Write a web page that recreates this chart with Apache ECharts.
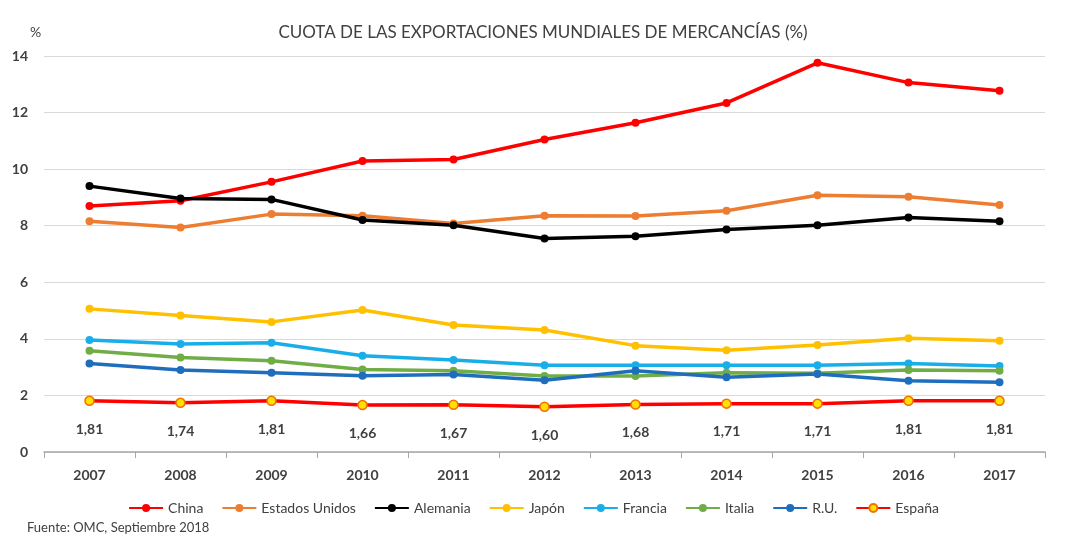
<!DOCTYPE html>
<html>
<head>
<meta charset="utf-8">
<script src="https://cdn.jsdelivr.net/npm/echarts@6/dist/echarts.min.js"></script>
<style>
  html, body { margin: 0; padding: 0; background: #fff; }
  #main { width: 1067px; height: 548px; }
</style>
</head>
<body>
<div id="main"></div>
<script>
// datos
var years = ['2007', '2008', '2009', '2010', '2011', '2012', '2013', '2014', '2015', '2016', '2017'];
var china = [8.70, 8.88, 9.55, 10.29, 10.34, 11.05, 11.64, 12.34, 13.76, 13.06, 12.77];
var eeuu = [8.16, 7.94, 8.41, 8.35, 8.08, 8.35, 8.34, 8.53, 9.08, 9.02, 8.73];
var alemania = [9.40, 8.96, 8.93, 8.20, 8.02, 7.55, 7.63, 7.87, 8.02, 8.29, 8.16];
var japon = [5.06, 4.83, 4.60, 5.02, 4.49, 4.31, 3.76, 3.60, 3.78, 4.02, 3.93];
var francia = [3.96, 3.82, 3.86, 3.40, 3.25, 3.07, 3.07, 3.07, 3.07, 3.13, 3.04];
var italia = [3.58, 3.34, 3.23, 2.92, 2.87, 2.69, 2.69, 2.80, 2.78, 2.90, 2.87];
var ru = [3.13, 2.90, 2.80, 2.70, 2.74, 2.54, 2.87, 2.64, 2.76, 2.52, 2.47];
var espana = [1.81, 1.74, 1.81, 1.66, 1.67, 1.60, 1.68, 1.71, 1.71, 1.81, 1.81];

var font = 'Lato';
var myChart = echarts.init(document.getElementById('main'));

function serie(name, data, color, extra) {
    var s = {
        name: name,
        type: 'line',
        data: data,
        symbol: 'circle',
        symbolSize: 8,
        lineStyle: { width: 3.5, color: color },
        itemStyle: { color: color },
        z: 2
    };
    return Object.assign(s, extra || {});
}

myChart.setOption({
    backgroundColor: '#ffffff',
    textStyle: { fontFamily: font },
    title: [{
        text: 'CUOTA DE LAS EXPORTACIONES MUNDIALES DE MERCANCÍAS (%)',
        left: 538, top: 19, textAlign: 'center',
        textStyle: { fontFamily: font, fontSize: 17, fontWeight: 'normal', color: '#404040' }
    }, {
        text: '%',
        left: 25, top: 20,
        textStyle: { fontFamily: font, fontSize: 14, fontWeight: 'normal', color: '#404040' }
    }, {
        text: 'Fuente: OMC, Septiembre 2018',
        left: 22, top: 516,
        textStyle: { fontFamily: font, fontSize: 13, fontWeight: 'normal', color: '#404040' }
    }],
    legend: {
        top: 496,
        left: 'center',
        itemWidth: 34,
        itemHeight: 10,
        itemGap: 18,
        textStyle: { fontFamily: font, fontSize: 14, color: '#404040' },
        data: ['China', 'Estados Unidos', 'Alemania', 'Japón', 'Francia', 'Italia', 'R.U.', 'España']
    },
    grid: { left: 44, right: 22, top: 56, bottom: 96 },
    xAxis: {
        type: 'category',
        data: years,
        axisLine: { lineStyle: { color: '#a6a6a6', width: 1.5 } },
        axisTick: { show: true, length: 6, lineStyle: { color: '#a6a6a6' } },
        axisLabel: { margin: 16, fontFamily: font, fontSize: 14, fontWeight: 'bold', color: '#404040' }
    },
    yAxis: {
        type: 'value',
        min: 0, max: 14, interval: 2,
        axisLine: { show: false },
        axisTick: { show: false },
        splitLine: { lineStyle: { color: '#d9d9d9', width: 1.2 } },
        axisLabel: { margin: 16, fontFamily: font, fontSize: 14, fontWeight: 'bold', color: '#404040' }
    },
    series: [
        serie('China', china, '#ff0000'),
        serie('Estados Unidos', eeuu, '#ed7d31'),
        serie('Alemania', alemania, '#000000'),
        serie('Japón', japon, '#ffc000'),
        serie('Francia', francia, '#1aaee8'),
        serie('Italia', italia, '#70ad47'),
        serie('R.U.', ru, '#1f6ebd'),
        serie('España', espana, '#ff0000', {
            itemStyle: { color: '#ffe000', borderColor: '#f07000', borderWidth: 1.5 },
            symbolSize: 9,
            label: {
                show: true,
                position: 'bottom',
                distance: 16,
                fontFamily: font,
                fontSize: 14,
                fontWeight: 'bold',
                color: '#404040',
                formatter: function (p) { return p.value.toFixed(2).replace('.', ','); }
            }
        })
    ]
});
</script>
</body>
</html>
